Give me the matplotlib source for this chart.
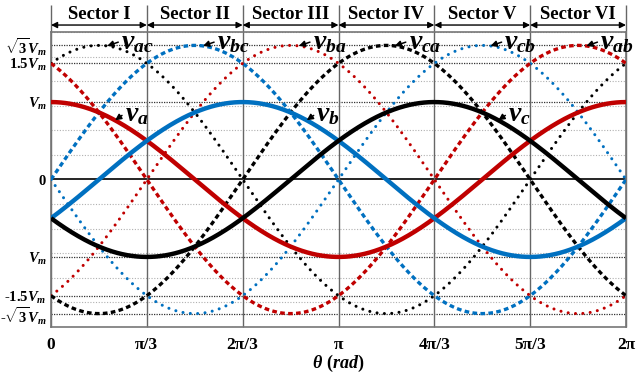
import numpy as np
import matplotlib
matplotlib.use("Agg")
import matplotlib.pyplot as plt

plt.rcParams['font.family'] = ['Liberation Serif', 'DejaVu Serif']
plt.rcParams['font.weight'] = 'bold'
plt.rcParams['mathtext.fontset'] = 'custom'
plt.rcParams['mathtext.rm'] = 'Liberation Serif:bold'
plt.rcParams['mathtext.it'] = 'Liberation Serif:italic:bold'
plt.rcParams['mathtext.bf'] = 'Liberation Serif:bold'

# ---------------- data ----------------
sector_labels = ['Sector I', 'Sector II', 'Sector III', 'Sector IV', 'Sector V', 'Sector VI']
sector_edges = [0, np.pi/3, 2*np.pi/3, np.pi, 4*np.pi/3, 5*np.pi/3, 2*np.pi]
xtick_labels = ['0', 'π/3', '2π/3', 'π', '4π/3', '5π/3', '2π']

ytick_values = [np.sqrt(3), 1.5, 1.0, 0.0, -1.0, -1.5, -np.sqrt(3)]
ytick_labels = [r'$\sqrt{3}V_m$', r'$1.5V_m$', r'$V_m$', r'$0$', r'$V_m$',
                r'-$1.5V_m$', r'-$\sqrt{3}V_m$']
grid_step = 0.3175          # light grid spacing (in Vm units)
y_limit = 1.905

# phase voltages: amplitude (Vm) and angle of the peak (rad)
phase_names = [r'$v_a$', r'$v_b$', r'$v_c$']
phase_amp = [1.0, 1.0, 1.0]
phase_peak = [0.0, 2*np.pi/3, 4*np.pi/3]
phase_colors = ['#C00000', '#0070C0', '#000000']

# line-to-line voltages
line_names = [r'$v_{ac}$', r'$v_{bc}$', r'$v_{ba}$', r'$v_{ca}$', r'$v_{cb}$', r'$v_{ab}$']
line_amp = [np.sqrt(3)] * 6
line_peak = [np.pi/6, np.pi/2, 5*np.pi/6, 7*np.pi/6, 3*np.pi/2, 11*np.pi/6]
line_colors = ['#000000', '#0070C0', '#C00000', '#000000', '#0070C0', '#C00000']
line_kinds = ['dot', 'dash', 'dot', 'dash', 'dot', 'dash']

# ---------------- figure ----------------
fig = plt.figure(figsize=(6.36, 3.79), dpi=100)
ax = fig.add_axes([51/636, 1 - 327/379, 575/636, 295/379])

theta = np.linspace(0, 2*np.pi, 721)

# light grid
k = np.arange(-6, 7)
for g in k * grid_step:
    if abs(g) < 1e-9:
        continue
    ax.axhline(g, color='#b0b0b0', lw=0.8, ls=(0, (1, 1.5)), zorder=1)
# dark grid at labelled values
for v in ytick_values:
    if v == 0:
        ax.axhline(0, color='black', lw=1.2, zorder=2)
    else:
        ax.axhline(v, color='#333333', lw=0.9, ls=(0, (1, 1)), zorder=2)

# sector boundaries (extending into header)
top_ext = 2.26
ax.vlines(sector_edges, -y_limit, top_ext, colors='#666666', lw=1.0,
          clip_on=False, zorder=2)

# line-to-line curves
for amp, pk, col, kind in zip(line_amp, line_peak, line_colors, line_kinds):
    y = amp * np.cos(theta - pk)
    if kind == 'dot':
        ax.plot(theta, y, color=col, lw=2.2, ls=(0, (0.01, 2.4)),
                dash_capstyle='round', zorder=3)
    else:
        ax.plot(theta, y, color=col, lw=2.4, ls=(0, (1.4, 1.0)),
                dash_capstyle='butt', zorder=3)

# phase curves
for amp, pk, col in zip(phase_amp, phase_peak, phase_colors):
    ax.plot(theta, amp * np.cos(theta - pk), color=col, lw=3.2,
            solid_capstyle='butt', zorder=4)

# labels with arrows
arrow_kw = dict(arrowstyle='-|>', color='black', lw=1.1, mutation_scale=9,
                shrinkA=0, shrinkB=0, relpos=(0.0, 0.55))
for name, amp, pk in zip(line_names, line_amp, line_peak):
    th = pk + 0.09
    ax.annotate(name, xy=(th, amp*np.cos(th - pk)), xytext=(10, 2.5),
                textcoords='offset points', fontsize=20, ha='left', va='center',
                arrowprops=arrow_kw, annotation_clip=False, zorder=6)
for name, amp, pk in zip(phase_names, phase_amp, phase_peak):
    th = pk + 0.70
    ax.annotate(name, xy=(th, amp*np.cos(th - pk)), xytext=(7, 4),
                textcoords='offset points', fontsize=20, ha='left', va='center',
                arrowprops=arrow_kw, annotation_clip=False, zorder=6)

# header: sector arrows and names
arrow_y = 1.995
for i, lab in enumerate(sector_labels):
    x0, x1 = sector_edges[i], sector_edges[i+1]
    ax.annotate('', xy=(x1, arrow_y), xytext=(x0, arrow_y),
                arrowprops=dict(arrowstyle='<|-|>', color='black', lw=1.0,
                                mutation_scale=9, shrinkA=0, shrinkB=0),
                annotation_clip=False)
    ax.text((x0 + x1)/2, 2.135, lab, ha='center', va='center',
            fontsize=13.5, fontweight='bold', clip_on=False)

ax.set_xlim(0, 2*np.pi)
ax.set_ylim(-y_limit, y_limit)
ax.set_xticks(sector_edges)
ax.set_xticklabels(xtick_labels, fontsize=12.5, fontweight='bold')
ax.set_yticks(ytick_values)
ax.set_yticklabels(ytick_labels, fontsize=10.5, fontweight='bold')
ax.tick_params(length=0, pad=3)
ax.tick_params(axis='x', pad=7)
ax.set_xlabel(r'$\theta\ (rad)$', fontsize=13, labelpad=0)
for s in ax.spines.values():
    s.set_color('#777777')
    s.set_linewidth(1.2)

fig.savefig('out.png', dpi=100)
